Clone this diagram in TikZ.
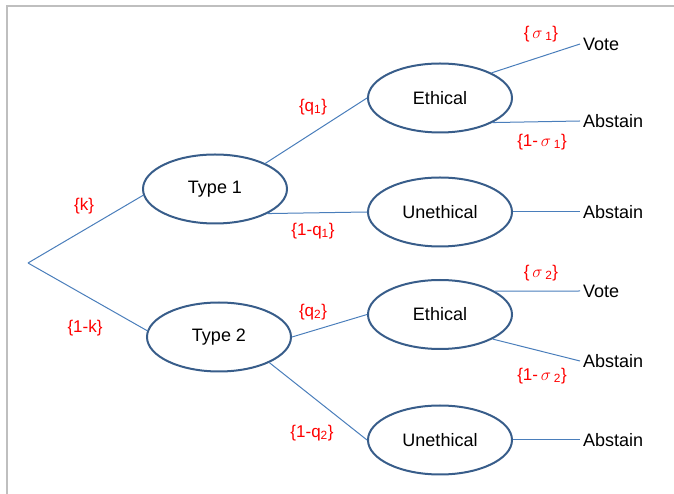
\documentclass[tikz,border=0pt]{standalone}
\usepackage{fontspec}
\setmainfont{Liberation Sans}
\usetikzlibrary{shapes.geometric}
\definecolor{ovalcol}{HTML}{385D8A}
\definecolor{linkcol}{HTML}{4A7EBB}
\definecolor{framecol}{HTML}{BFBFBF}
\begin{document}
\begin{tikzpicture}[
    state/.style={draw=ovalcol,line width=2bp,ellipse,minimum width=144bp,minimum height=69bp,inner sep=0pt,font=\fontsize{18bp}{20bp}\selectfont},
    act/.style={anchor=west,inner sep=3bp,font=\fontsize{18bp}{20bp}\selectfont},
    prob/.style={text=red,inner sep=0pt,font=\fontsize{17bp}{19bp}\selectfont},
    link/.style={draw=linkcol,line width=1bp}]
  \useasboundingbox (0bp,0bp) rectangle (674bp,494bp);
  \draw [framecol,line width=1.3bp] (7bp,0bp) -- (7bp,488bp) -- (674bp,488bp);
  \coordinate (Root) at (28bp,231bp);
  \node (Type1) at (215bp,305bp) [state] {Type 1};
  \node (Type2) at (219bp,157bp) [state] {Type 2};
  \node (Eth1) at (440bp,396bp) [state] {Ethical};
  \node (Uneth1) at (440bp,282bp) [state] {Unethical};
  \node (Eth2) at (440bp,179.5bp) [state] {Ethical};
  \node (Uneth2) at (440bp,54bp) [state] {Unethical};
  \node (Vote1) at (580bp,450bp) [act] {Vote};
  \node (Abs1) at (580bp,373bp) [act] {Abstain};
  \node (Abs2) at (580bp,282bp) [act] {Abstain};
  \node (Vote2) at (580bp,203bp) [act] {Vote};
  \node (Abs3) at (580bp,133bp) [act] {Abstain};
  \node (Abs4) at (580bp,54bp) [act] {Abstain};
  \draw [link] (Root) -- (Type1.185);
  \draw [link] (Root) -- (Type2.175);
  \draw [link] (Type1.27) -- (Eth1.west);
  \draw [link] (Type1.-25) -- (Uneth1.west);
  \draw [link] (Type2.east) -- (Eth2.west);
  \draw [link] (Type2.-27) -- (Uneth2.west);
  \draw [link] (Eth1.26) -- (Vote1.west);
  \draw [link] (Eth1.-25) -- (Abs1.west);
  \draw [link] (Uneth1.east) -- (Abs2.west);
  \draw [link] (Eth2.23) -- (Vote2.west);
  \draw [link] (Eth2.-25) -- (Abs3.west);
  \draw [link] (Uneth2.east) -- (Abs4.west);
  % probabilities
  \node (pk) at (84bp,288bp) [prob] {\{k\}};
  \node (p1k) at (85bp,166bp) [prob] {\{1-k\}};
  \node (pq1) at (313bp,387bp) [prob] {\{q\textsubscript{1}\}};
  \node (p1q1) at (313bp,263bp) [prob] {\{1-q\textsubscript{1}\}};
  \node (pq2) at (313bp,182bp) [prob] {\{q\textsubscript{2}\}};
  \node (p1q2) at (312bp,61bp) [prob] {\{1-q\textsubscript{2}\}};
  \node (ps1) at (541bp,460bp) [prob] {\{\,$\sigma$\,\textsubscript{1}\}};
  \node (p1s1) at (542bp,352bp) [prob] {\{1-\,$\sigma$\,\textsubscript{1}\}};
  \node (ps2) at (541bp,221bp) [prob] {\{\,$\sigma$\,\textsubscript{2}\}};
  \node (p1s2) at (542bp,118bp) [prob] {\{1-\,$\sigma$\,\textsubscript{2}\}};
\end{tikzpicture}
\end{document}
